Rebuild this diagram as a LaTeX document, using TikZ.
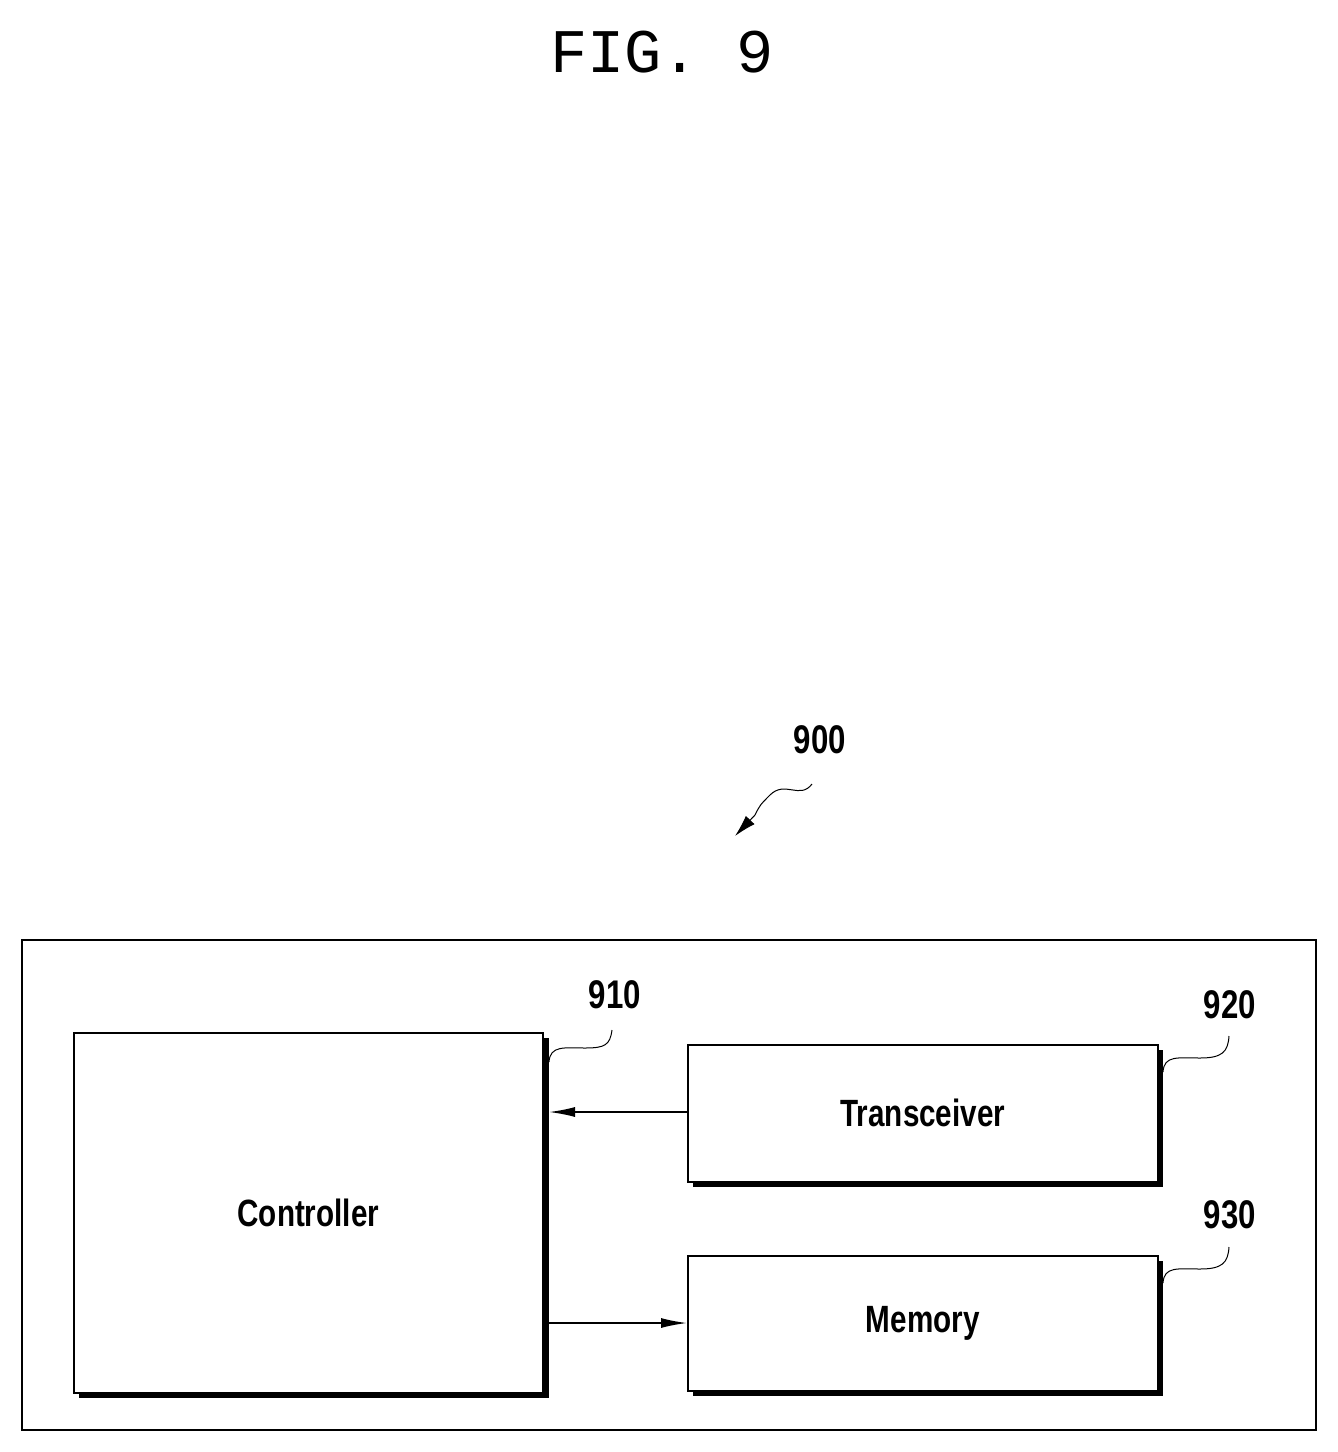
\documentclass[tikz,border=0pt]{standalone}
\usepackage{fontspec}
\newfontfamily\lab{Liberation Sans}[FakeStretch=0.78]
\newfontfamily\ttl{Liberation Mono}
\usetikzlibrary{arrows.meta}
\begin{document}
\begin{tikzpicture}[x=1pt,y=-1pt,
  blk/.style={draw,line width=1.6pt,fill=white},
  shd/.style={fill=black},
  txt/.style={font=\lab\bfseries\fontsize{38}{40}\selectfont,inner sep=0},
  ref/.style={font=\lab\bfseries\fontsize{40}{42}\selectfont,inner sep=0},
  lead/.style={line width=1pt},
  arr/.style={line width=1.6pt,-{Latex[length=26pt,width=10pt]}}]
\useasboundingbox (0,0) rectangle (1338,1452);
\node[inner sep=0,font=\ttl\fontsize{62}{64}\selectfont] (title) at (662,52) {FIG. 9};
\node[ref] (n900) at (820,740) {900};
\draw[lead] (812,784) .. controls (800,800) and (785,780) .. (770,795) .. controls (760,805) .. (755,815) coordinate (t900);
\draw[line width=1pt,-{Latex[length=22pt,width=12pt]}] (t900) -- (735,836);
\draw[line width=1.3pt] (22,940) rectangle (1316,1430);
% controller
\fill[shd] (79,1038) rectangle (549,1398);
\node[blk,minimum width=469pt,minimum height=360pt,anchor=north west] (ctrl) at (73,1032) {};
\node[txt] at (ctrl.center) {Controller};
% transceiver
\fill[shd] (693,1050) rectangle (1163,1187);
\node[blk,minimum width=470pt,minimum height=137pt,anchor=north west] (trx) at (687,1044) {};
\node[txt] at (trx.center) {Transceiver};
% memory
\fill[shd] (693,1261) rectangle (1163,1396);
\node[blk,minimum width=470pt,minimum height=135pt,anchor=north west] (mem) at (687,1255) {};
\node[txt] at (mem.center) {Memory};
% labels
\node[ref] (n910) at (615,995) {910};
\node[ref] (n920) at (1230,1005) {920};
\node[ref] (n930) at (1230,1215) {930};
\draw[lead] (549,1062) .. controls (550,1045) and (565,1048) .. (585,1048) .. controls (605,1048) and (610,1045) .. (612,1030);
\draw[lead] (1163,1072) .. controls (1164,1055) and (1178,1058) .. (1200,1058) .. controls (1222,1058) and (1228,1052) .. (1229,1036);
\draw[lead] (1163,1283) .. controls (1164,1266) and (1178,1269) .. (1200,1269) .. controls (1222,1269) and (1228,1263) .. (1229,1247);
% arrows
\draw[arr] (trx.west |- 0,1112) -- (549,1112);
\draw[arr] (549,1323) -- (mem.west |- 0,1323);
\end{tikzpicture}
\end{document}
